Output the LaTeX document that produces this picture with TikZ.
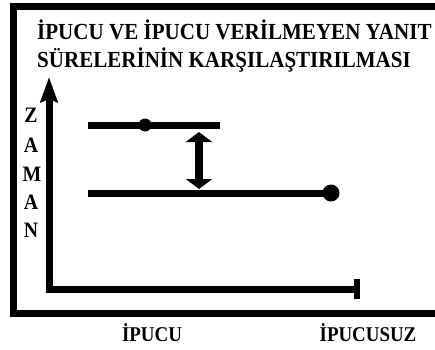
\documentclass[tikz,border=0pt]{standalone}
\usepackage{fontspec}
\usepackage{graphicx}
\setmainfont{Liberation Serif}
\usetikzlibrary{arrows.meta}
% narrow, tall bold lettering
\newcommand{\narrowtext}[1]{\scalebox{0.9}[1]{#1}}
\newcommand{\titlewidth}[1]{\scalebox{0.915}[1]{#1}}
\tikzset{
  thick line/.style={line width=7pt},
  axis line/.style={line width=7pt},
  title text/.style={font=\fontsize{23}{23}\selectfont\bfseries, inner sep=0pt, anchor=base west},
  label text/.style={font=\fontsize{21}{21}\selectfont\bfseries, inner sep=0pt, anchor=base},
  axis letter/.style={font=\fontsize{22}{22}\selectfont\bfseries, inner sep=0pt, anchor=base},
}
\begin{document}
\begin{tikzpicture}[x=1pt,y=-1pt]
  \useasboundingbox (0,0) rectangle (435,349);
  \clip (0,0) rectangle (435,349);

  % outer frame, running off the right edge
  \draw[thick line] (460,6.5) -- (13.5,6.5) -- (13.5,313) -- (460,313);

  % title
  \node[title text] (title1) at (37,39) {\titlewidth{İPUCU VE İPUCU VERİLMEYEN YANIT}};
  \node[title text] (title2) at (37,67) {\titlewidth{SÜRELERİNİN KARŞILAŞTIRILMASI}};

  % axes
  \coordinate (origin) at (49,289);
  \coordinate (ytop) at (49,77);
  \coordinate (xend) at (360,289);
  \draw[axis line, -{Stealth[length=25pt,width=17pt,inset=3pt]}] (49,292.5) -- (ytop);
  \draw[axis line, -{Bar[width=20pt,line width=6pt]}] (45.5,289) -- (xend);

  % vertical axis label
  \node[axis letter] (z1) at (31,122) {\narrowtext{Z}};
  \node[axis letter] (z2) at (31,152) {\narrowtext{A}};
  \node[axis letter] (z3) at (32,181) {\narrowtext{M}};
  \node[axis letter] (z4) at (31,209) {\narrowtext{A}};
  \node[axis letter] (z5) at (31,237) {\narrowtext{N}};

  % response-time lines
  \coordinate (a1) at (88,125);
  \coordinate (a2) at (220,125);
  \coordinate (b1) at (88,193);
  \coordinate (b2) at (331,193);
  \draw[thick line] (a1) -- (a2);
  \draw[thick line] (b1) -- (b2);
  \node[circle, fill=black, minimum size=13pt, inner sep=0pt] (dotA) at (145,125) {};
  \node[circle, fill=black, minimum size=17pt, inner sep=0pt] (dotB) at (b2) {};

  % difference arrow
  \coordinate (d1) at (199,132);
  \coordinate (d2) at (199,189);
  \draw[line width=8.5pt, {Triangle[length=10pt,width=26pt]}-{Triangle[length=10pt,width=26pt]}] (d1) -- (d2);

  % category labels
  \node[label text] (ipucu) at (152,341) {\narrowtext{İPUCU}};
  \node[label text] (ipucusuz) at (368,341) {\narrowtext{İPUCUSUZ}};
\end{tikzpicture}
\end{document}
